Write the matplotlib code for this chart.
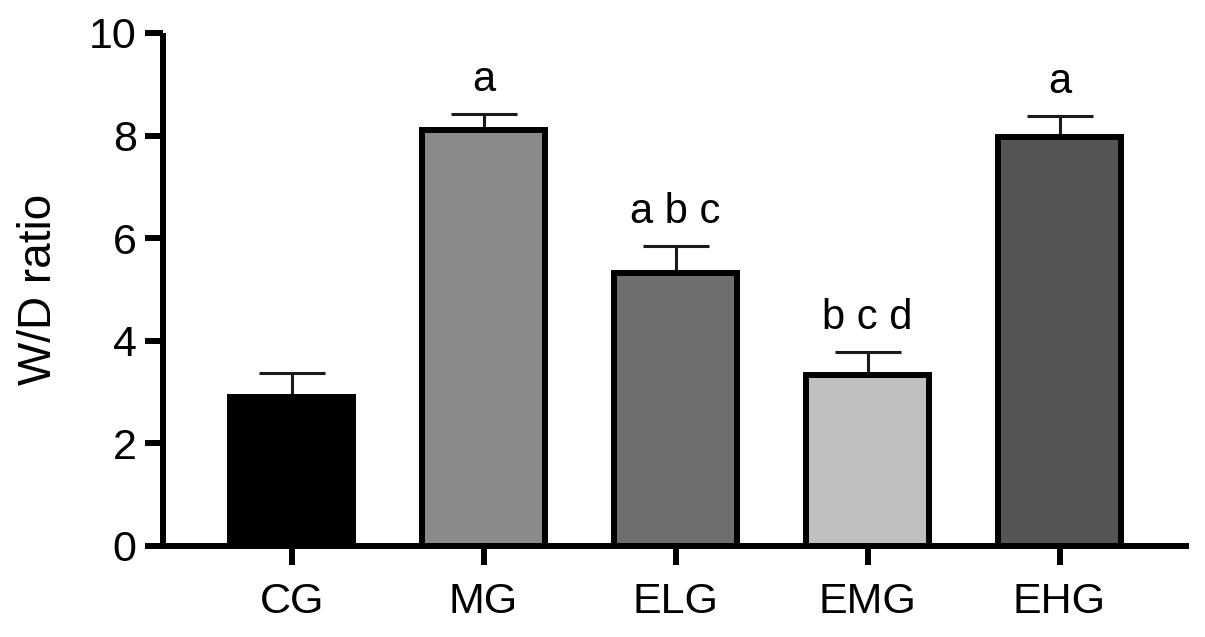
import matplotlib
matplotlib.use("Agg")
import matplotlib.pyplot as plt

# values
groups = ["CG", "MG", "ELG", "EMG", "EHG"]
means = [2.90, 8.11, 5.32, 3.33, 7.97]
sems = [0.47, 0.31, 0.53, 0.45, 0.41]
letters = ["", "a", "a b c", "b c d", "a"]
fills = ["#000000", "#8a8a8a", "#6e6e6e", "#c0c0c0", "#555555"]

plt.rcParams["font.family"] = ["Liberation Sans", "DejaVu Sans"]

fig = plt.figure(figsize=(12.05, 6.37), dpi=100)
ax = fig.add_axes([0.1353, 0.1429, 0.8515, 0.8053])

x = list(range(len(groups)))
ax.bar(x, means, width=0.64, color=fills, edgecolor="black", linewidth=4.3, zorder=3)
ax.errorbar(x, means, yerr=[[0] * len(sems), sems], fmt="none", ecolor="#1a1a1a",
            elinewidth=2.2, capsize=24, capthick=2.2, zorder=2)

for xi, m, s, lab in zip(x, means, sems, letters):
    if lab:
        ax.text(xi, m + s + 0.45, lab, ha="center", va="baseline", fontsize=30)

ax.set_xlim(-0.67, 4.675)
ax.set_ylim(0, 10)
ax.set_yticks([0, 2, 4, 6, 8, 10])
ax.set_xticks(x)
ax.set_xticklabels(groups)
ax.set_ylabel("W/D ratio", fontsize=33, labelpad=20)

for side in ("top", "right"):
    ax.spines[side].set_visible(False)
for side in ("left", "bottom"):
    ax.spines[side].set_linewidth(4.3)
    ax.spines[side].set_capstyle("butt")
ax.tick_params(axis="y", length=13, width=4.3, labelsize=31, pad=6)
ax.tick_params(axis="x", length=14, width=4.3, labelsize=31, pad=12)

fig.savefig("out.png", dpi=100)
